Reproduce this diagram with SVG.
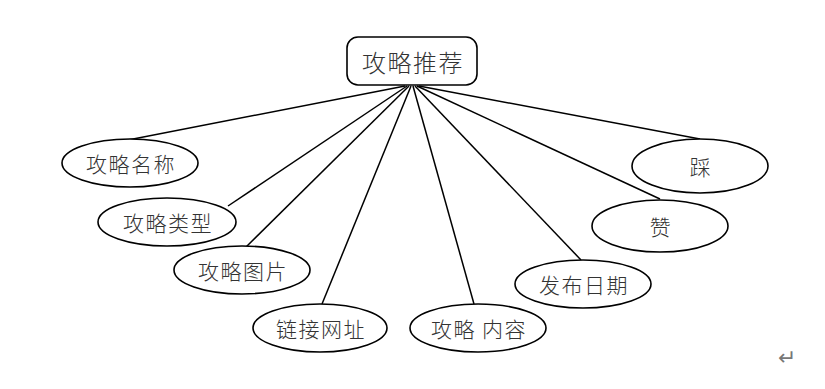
<svg xmlns="http://www.w3.org/2000/svg" width="825" height="389" viewBox="0 0 825 389">
<style>
.n{fill:#fff;stroke:#000;stroke-width:1.6}
.t{font-family:"Noto Sans CJK SC","Noto Sans CJK JP",sans-serif;font-weight:300;font-size:21px;letter-spacing:1.5px;fill:#333;text-anchor:middle;dominant-baseline:central}
.c line{stroke:#000;stroke-width:1.5}
</style>
<rect width="825" height="389" fill="#fff"/>
<g class="c" id="connectors">
<line x1="405" y1="86" x2="128" y2="140"/>
<line x1="407" y1="86" x2="228" y2="206"/>
<line x1="409" y1="86" x2="246" y2="247"/>
<line x1="411" y1="86" x2="322" y2="304"/>
<line x1="413" y1="86" x2="474" y2="304"/>
<line x1="415" y1="86" x2="581" y2="260"/>
<line x1="417" y1="86" x2="660" y2="199"/>
<line x1="419" y1="86" x2="700" y2="139"/>
</g>
<g id="root"><rect class="n" x="347" y="37" width="130" height="48" rx="11"/><text class="t" x="413" y="61" style="font-size:24px">攻略推荐</text></g>
<g id="n1"><ellipse class="n" cx="130" cy="163" rx="68" ry="24"/><text class="t" x="131" y="163">攻略名称</text></g>
<g id="n2"><ellipse class="n" cx="167" cy="222" rx="69" ry="24"/><text class="t" x="168" y="222">攻略类型</text></g>
<g id="n3"><ellipse class="n" cx="242" cy="270" rx="68" ry="24"/><text class="t" x="243" y="270">攻略图片</text></g>
<g id="n4"><ellipse class="n" cx="320" cy="328" rx="67" ry="24"/><text class="t" x="321" y="328">链接网址</text></g>
<g id="n5"><ellipse class="n" cx="478" cy="328" rx="68" ry="24"/><text class="t" x="479" y="328">攻略 内容</text></g>
<g id="n6"><ellipse class="n" cx="583" cy="284" rx="68" ry="24"/><text class="t" x="584" y="284">发布日期</text></g>
<g id="n7"><ellipse class="n" cx="660" cy="226" rx="68" ry="26"/><text class="t" x="661" y="226">赞</text></g>
<g id="n8"><ellipse class="n" cx="700" cy="166" rx="68" ry="27"/><text class="t" x="701" y="166">踩</text></g>
<text x="787" y="357" style="font-family:'DejaVu Sans',sans-serif;font-size:22px;fill:#777;text-anchor:middle;dominant-baseline:central">↵</text>
</svg>
